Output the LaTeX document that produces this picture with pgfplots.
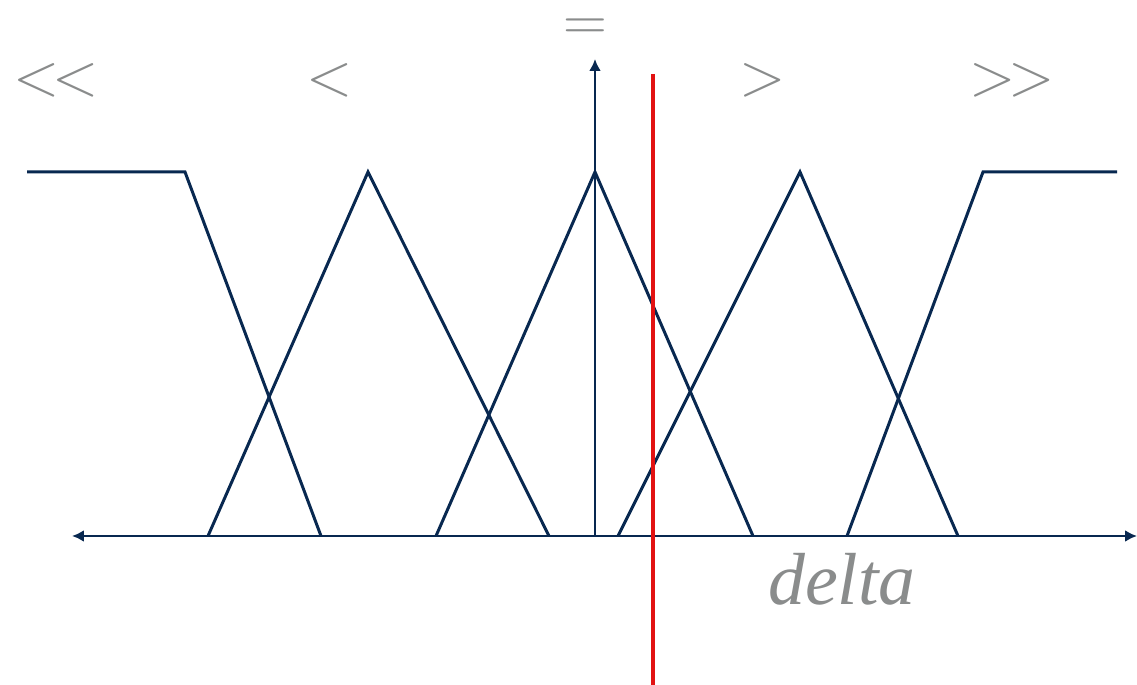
\documentclass[border=0pt]{standalone}
\usepackage{fontspec}
\setmainfont{Liberation Sans}
\newfontfamily\serifit{Liberation Serif}
\usepackage{pgfplots}
\pgfplotsset{compat=1.18}
\usetikzlibrary{arrows.meta}
\definecolor{navy}{RGB}{8,40,80}
\definecolor{lab}{RGB}{138,140,140}
\definecolor{redl}{RGB}{226,18,18}
\begin{document}
\begin{tikzpicture}
\begin{axis}[
  at={(0,0)}, anchor=south west,
  scale only axis, width=11.37cm, height=6.85cm,
  xmin=0, xmax=1137, ymin=0, ymax=685, y dir=reverse,
  hide axis, clip=false,
  every axis plot/.append style={no marks, line join=miter},
]
% axes
\addplot[navy, line width=0.8pt, {Latex[length=3.4pt,width=3.4pt]}-{Latex[length=3.4pt,width=3.4pt]}] coordinates {(72,536) (1137,536)};
\addplot[navy, line width=0.8pt, -{Latex[length=3.4pt,width=3.4pt]}] coordinates {(595,536) (595,59)};
% membership functions
\addplot[navy, line width=0.85pt] coordinates {(27,172) (185,172) (321,536)};
\addplot[navy, line width=0.85pt] coordinates {(208,536) (368,172) (549,536)};
\addplot[navy, line width=0.85pt] coordinates {(436,536) (595,172) (753,536)};
\addplot[navy, line width=0.85pt] coordinates {(618,536) (800,172) (958,536)};
\addplot[navy, line width=0.85pt] coordinates {(847,536) (983,172) (1117,172)};
% red line
\addplot[redl, line width=1.4pt] coordinates {(653,74) (653,685)};
% labels
\node[lab, font=\fontsize{18}{22}\selectfont, inner sep=0pt] at (axis cs:56,80) {$<\mkern-2mu<$};
\node[lab, font=\fontsize{18}{22}\selectfont, inner sep=0pt] at (axis cs:330,80) {$<$};
\node[lab, font=\fontsize{18}{22}\selectfont, inner sep=0pt] at (axis cs:585,30) {$=$};
\node[lab, font=\fontsize{18}{22}\selectfont, inner sep=0pt] at (axis cs:763,80) {$>$};
\node[lab, font=\fontsize{18}{22}\selectfont, inner sep=0pt] at (axis cs:1012,80) {$>\mkern-2mu>$};
\node[lab, font=\serifit\itshape\fontsize{21}{24}\selectfont, anchor=base] at (axis cs:842,605) {delta};
\end{axis}
\pgfresetboundingbox
\path (0,0) rectangle (11.37cm,6.85cm);
\end{tikzpicture}
\end{document}
